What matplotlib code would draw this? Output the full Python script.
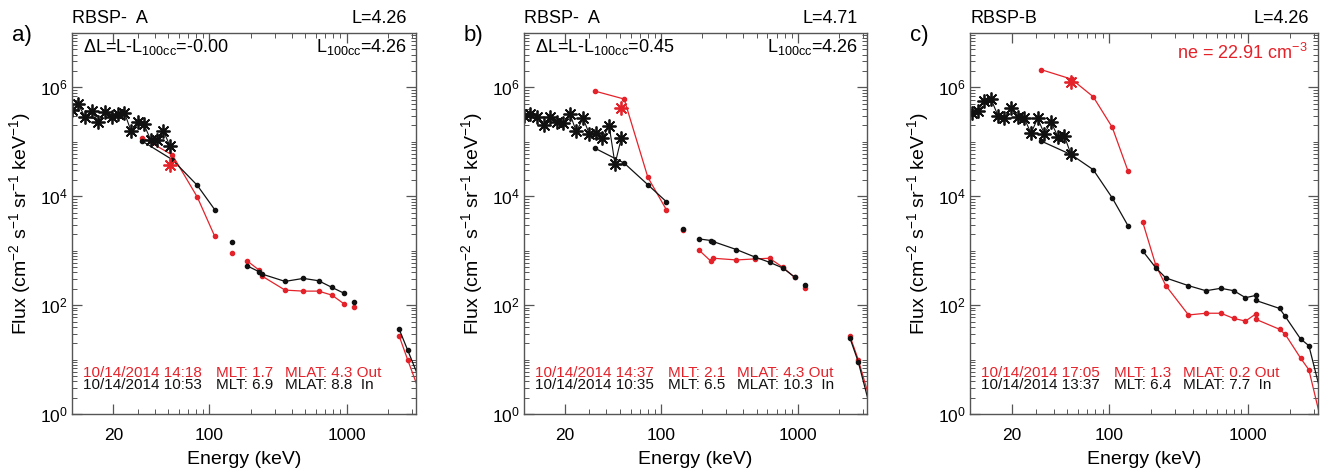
import numpy as np
import matplotlib
matplotlib.use('Agg')
import matplotlib.pyplot as plt
from matplotlib.ticker import (FixedLocator, FixedFormatter, LogLocator,
                               LogFormatterSciNotation, NullFormatter)

plt.rcParams['font.family'] = ['Liberation Sans', 'DejaVu Sans']
plt.rcParams['mathtext.fontset'] = 'custom'
plt.rcParams['mathtext.rm'] = 'Liberation Sans'
plt.rcParams['mathtext.it'] = 'Liberation Sans:italic'
plt.rcParams['mathtext.default'] = 'regular'

nan = np.nan
RED = '#e4222a'
BLACK = '#111111'

# HOPE channels (asterisks), inbound pass
hope_e = [10.0, 11.1, 12.5, 13.9, 15.5, 17.3, 19.4, 21.7, 24.1, 27.0, 30.0, 33.4, 37.4, 41.9, 46.2, 51.5]
hope_e_c = [10.3, 11.4, 12.7, 14.2, 15.9, 17.7, 19.7, 22.0, 24.6, 27.5, 30.7, 34.3, 38.3, 42.8, 47.7, 53.3]
a_star = [3.85e5, 4.89e5, 2.82e5, 3.74e5, 2.36e5, 3.59e5, 2.91e5, 3.25e5, 3.44e5, 1.55e5, 2.36e5, 2.10e5, 1.09e5, 1.09e5, 1.61e5, 8.57e4]
b_star = [2.99e5, 3.21e5, 2.90e5, 2.05e5, 2.82e5, 2.36e5, 2.26e5, 3.21e5, 1.55e5, 2.71e5, 1.40e5, 1.44e5, 1.17e5, 1.96e5, 3.90e4, 1.20e5]
c_star = [3.44e5, 3.74e5, 5.70e5, 6.03e5, 3.03e5, 2.71e5, 4.25e5, 2.90e5, 2.71e5, 1.44e5, 2.71e5, 1.40e5, 2.36e5, 1.25e5, 1.29e5, 5.94e4]

# MagEIS channels (dots), nan = gap in the curve
a_e = [32.5, 53.9, 81.7, 109.4, nan, 145.6, nan, 187.4, 229.7, 241.5, 356, 484, 624, 781, 950, nan, 1132, nan, 2414, 2780, 3600]
a_in = [1.03e5, 4.69e4, 1.59e4, 5.7e3, nan, 1.44e3, nan, 532, 412, 373, 273, 310, 281, 212, 167, nan, 115, nan, 36, 15, 3.0]
a_out = [1.2e5, 5.7e4, 9.7e3, 1.85e3, nan, 900, nan, 658, 443, 343, 189, 181, 181, 153, 107, nan, 92, nan, 27, 10, 1.7]

b_e = [32.9, 53.9, 80.3, 109.4, nan, 144.9, nan, 188.6, 232, 241.5, 356, 484, 621, 777, 946, nan, 1125, nan, 2400, 2762, 3600]
b_in = [7.66e4, 4.07e4, 1.63e4, 7.98e3, nan, 2.52e3, nan, 1.65e3, 1.54e3, 1.47e3, 1.05e3, 769, 613, 482, 329, nan, 237, nan, 25, 9.1, 0.7]
b_out = [8.57e5, 6.12e5, 2.23e4, 5.7e3, nan, 2.45e3, nan, 1.04e3, 640, 727, 677, 706, 727, 496, 324, nan, 206, nan, 27, 10, 1.0]

c_e = [32.4, 53.8, 77.1, 105.7, 137, nan, 174.6, 217.8, 257, 374, 499, 640, 793, 962, 1142, 1142, 1692, 1860, 2395, 2750, 3600]
c_in = [1.04e5, 5.78e4, 3.08e4, 9.33e3, 2.90e3, nan, 1000, 484, 316, 228, 184, 204, 184, 137, 151, 122, 87, 62, 24, 18, 1.2]
c_out = [2.13e6, 1.42e6, 6.74e5, 1.85e5, 2.95e4, nan, 3.44e3, 535, 228, 66, 71, 71, 57, 51, 69, 55, 36, 29, 10.7, 6.5, 0.37]

# outbound HOPE point (red asterisk)
red_star_e = [51.5, 51.5, 53.0]
red_star_f = [3.69e4, 4.25e5, 1.27e6]

panel_tags = ['a)', 'b)', 'c)']
probes = ['RBSP-  A', 'RBSP-  A', 'RBSP-B']
l_vals = ['4.26', '4.71', '4.26']
delta_l = ['-0.00', '0.45', None]
l100 = ['4.26', '4.26', None]
ne_c = '22.91'
out_times = ['10/14/2014 14:18', '10/14/2014 14:37', '10/14/2014 17:05']
out_mlt = ['1.7', '2.1', '1.3']
out_mlat = ['4.3', '4.3', '0.2']
in_times = ['10/14/2014 10:53', '10/14/2014 10:35', '10/14/2014 13:37']
in_mlt = ['6.9', '6.5', '6.4']
in_mlat = ['8.8', '10.3', '7.7']

star_e = [hope_e, hope_e, hope_e_c]
stars = [a_star, b_star, c_star]
mag_e = [a_e, b_e, c_e]
mag_in = [a_in, b_in, c_in]
mag_out = [a_out, b_out, c_out]

W, H = 1323, 471
fig = plt.figure(figsize=(W / 100, H / 100), dpi=100)

# axes boxes in pixels: left, width
boxes = [(72, 344), (524, 343), (970, 348)]
ax_bottom, ax_h = 57, 381
star_marker = (8, 2, 0)

for i in range(3):
    left, wid = boxes[i]
    ax = fig.add_axes([left / W, ax_bottom / H, wid / W, ax_h / H])
    ax.set_xscale('log')
    ax.set_yscale('log')

    ax.plot(mag_e[i], mag_out[i], '-o', color=RED, lw=0.9, ms=3, mec=RED)
    ax.plot(mag_e[i], mag_in[i], '-o', color=BLACK, lw=0.9, ms=3)
    ax.plot(star_e[i], stars[i], '-', color=BLACK, lw=0.8, marker=star_marker,
            ms=10, mew=1.3)
    ax.plot([red_star_e[i]], [red_star_f[i]], ls='none', marker=star_marker,
            ms=10, mew=1.3, color=RED)

    ax.set_xlim(10, 3200)
    ax.set_ylim(1, 1e7)

    ax.xaxis.set_major_locator(FixedLocator([20, 100, 1000]))
    ax.xaxis.set_major_formatter(FixedFormatter(['20', '100', '1000']))
    ax.xaxis.set_minor_locator(LogLocator(base=10, subs=np.arange(1, 10), numticks=50))
    ax.xaxis.set_minor_formatter(NullFormatter())
    ax.yaxis.set_major_locator(FixedLocator([1, 1e2, 1e4, 1e6]))
    ax.yaxis.set_major_formatter(LogFormatterSciNotation())
    ax.yaxis.set_minor_locator(LogLocator(base=10, subs=np.arange(1, 10), numticks=50))
    ax.yaxis.set_minor_formatter(NullFormatter())

    ax.tick_params(which='both', direction='in', top=True, right=True, color='#555555',
                   labelsize=12.5)
    ax.tick_params(which='major', length=7, width=0.9)
    ax.tick_params(which='minor', length=3.5, width=0.7)
    ax.tick_params(axis='x', pad=10)
    ax.tick_params(axis='y', pad=3)
    for sp in ax.spines.values():
        sp.set_color('#555555')
        sp.set_linewidth(1.0)

    ax.set_xlabel('Energy (keV)', fontsize=14, labelpad=6)
    ax.set_ylabel(r'Flux (cm$^{-2}$ s$^{-1}$ sr$^{-1}$ keV$^{-1}$)', fontsize=14, labelpad=5)

    above = 1 + 14 / ax_h
    ax.text(0, above, probes[i], transform=ax.transAxes, ha='left', va='center', fontsize=13)
    ax.text(1 - 9 / wid, above, 'L=' + l_vals[i], transform=ax.transAxes, ha='right',
            va='center', fontsize=13)
    fig.text((left - 60) / W, 1 - 35 / H, panel_tags[i], ha='left', va='center', fontsize=16)

    if delta_l[i] is not None:
        ax.text(11 / wid, 0.963, r'$\Delta$L=L-L$_{100cc}$=' + delta_l[i],
                transform=ax.transAxes, ha='left', va='center', fontsize=13)
        ax.text(1 - 9 / wid, 0.963, r'L$_{100cc}$=' + l100[i],
                transform=ax.transAxes, ha='right', va='center', fontsize=13)
    else:
        ax.text(1 - 10 / wid, 0.948, r'ne = ' + ne_c + r' cm$^{-3}$', color=RED,
                transform=ax.transAxes, ha='right', va='center', fontsize=13)

    # pass info, offsets in pixels from left spine
    cols = [11, 144, 213]
    rows = [(0.108, RED, [out_times[i], 'MLT: ' + out_mlt[i], 'MLAT: ' + out_mlat[i] + ' Out']),
            (0.076, BLACK, [in_times[i], 'MLT: ' + in_mlt[i], 'MLAT: ' + in_mlat[i] + '  In'])]
    for yy, col, parts in rows:
        for cx, s in zip(cols, parts):
            ax.text(cx / wid, yy, s, transform=ax.transAxes, ha='left', va='center',
                    fontsize=11, color=col)

fig.savefig('out.png', dpi=100)
